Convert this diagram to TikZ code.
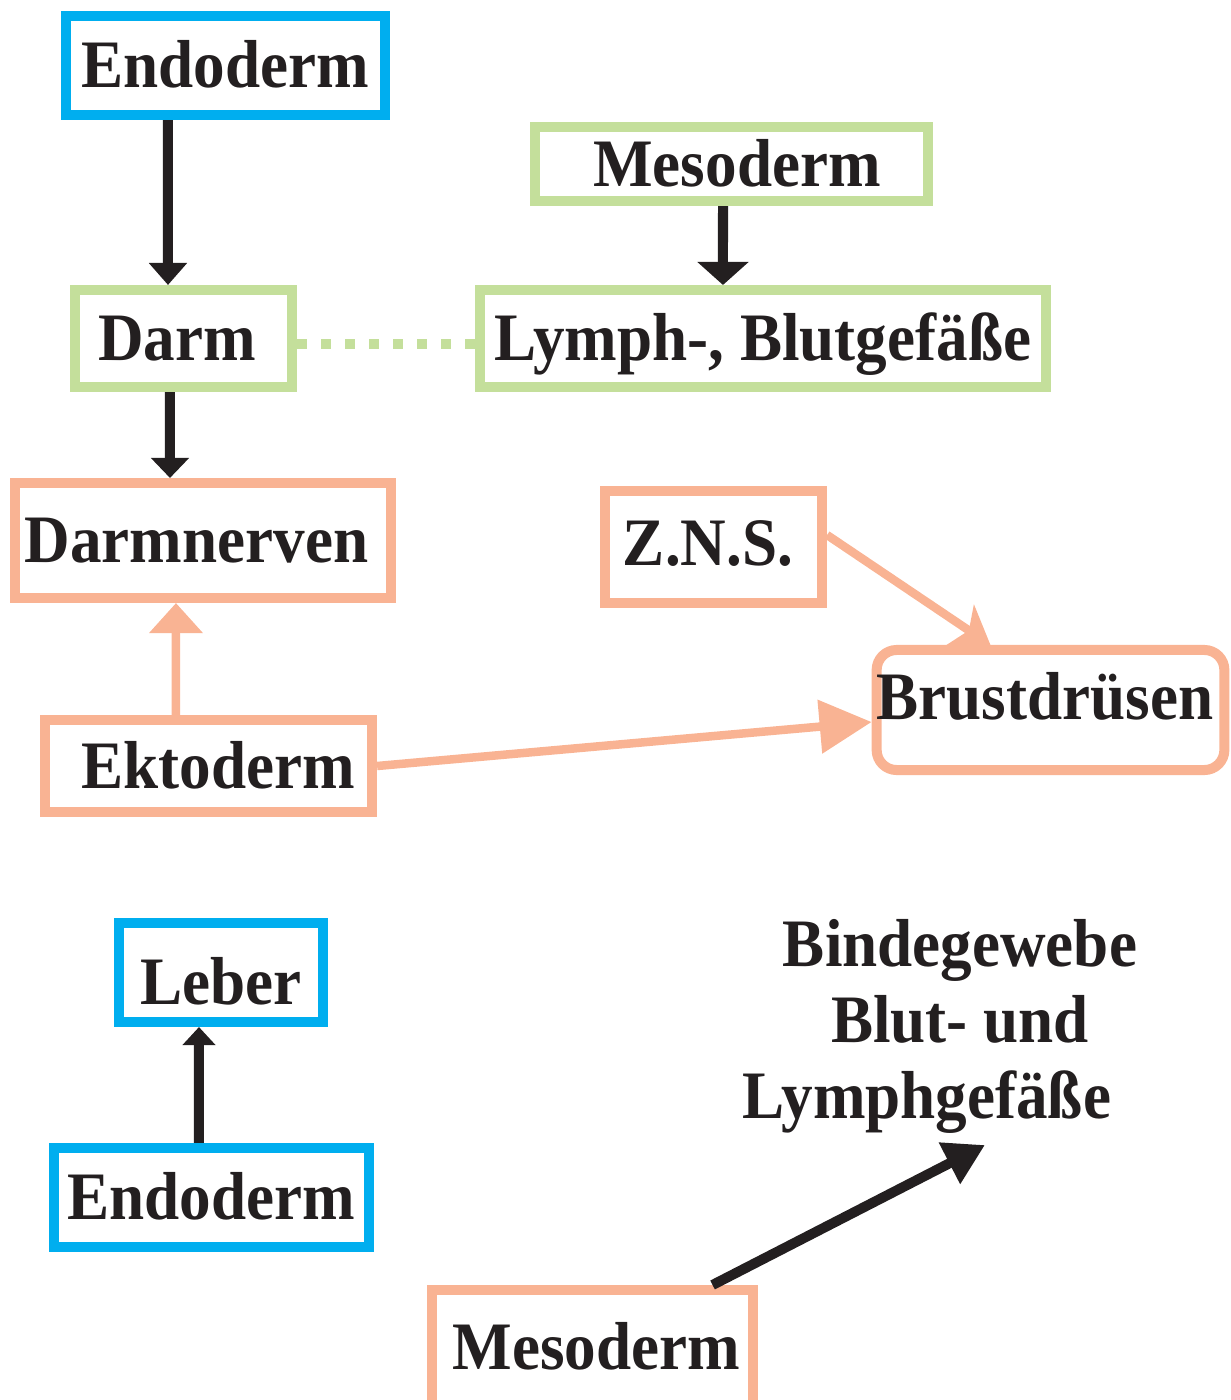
\documentclass[tikz,border=0pt]{standalone}
\usepackage{fontspec}
\setmainfont{Liberation Serif}[FakeStretch=0.93]
\usepackage{xcolor}
\usepackage{tikz}
\usetikzlibrary{arrows.meta}

\definecolor{endoblau}{HTML}{00AEEF}
\definecolor{mesogruen}{HTML}{C4DF9B}
\definecolor{ektoorange}{HTML}{F9B393}
\definecolor{pfeilschwarz}{HTML}{231F20}

\tikzset{
  box/.style={draw, line width=0.1cm, inner sep=0pt, text height=0.445cm, text depth=0pt, text=pfeilschwarz},
  blackarrow/.style={draw=pfeilschwarz, line width=0.1cm},
  orangearrow/.style={draw=ektoorange, line width=0.085cm}
}

\begin{document}
\begin{tikzpicture}[x=0.01cm,y=-0.01cm,font=\fontsize{19.3pt}{21.6pt}\selectfont\bfseries]
    \useasboundingbox (0,0) rectangle (1230,1400);
    % oberer Teil
    \node[box,draw=endoblau,minimum width=3.19cm,minimum height=0.99cm] (endoTop) at (225.5,65.5) {Endoderm};
    \node[box,draw=mesogruen,minimum width=3.93cm,minimum height=0.74cm] (mesoTop) at (731.5,164) {\hspace*{0.11cm}Mesoderm};
    \node[box,draw=mesogruen,minimum width=2.17cm,minimum height=0.97cm] (darm) at (183.5,338.5) {Darm\hspace*{0.13cm}};
    \node[box,draw=mesogruen,minimum width=5.66cm,minimum height=0.97cm] (lymph) at (763,338.5) {Lymph-, Blutgefäße};
    \node[box,draw=ektoorange,minimum width=3.76cm,minimum height=1.15cm] (darmnerven) at (203,540.5) {Darmnerven\hspace*{0.13cm}};
    \node[box,draw=ektoorange,minimum width=2.17cm,minimum height=1.12cm,text depth=0.08cm] (zns) at (713.5,547) {Z.N.S.\hspace*{0.11cm}};
    \node[box,draw=ektoorange,rounded corners=0.2cm,minimum width=3.45cm,minimum height=1.2cm,text depth=0.26cm] (brust) at (1050.5,710) {Brustdrüsen\hspace*{0.11cm}};
    \node[box,draw=ektoorange,minimum width=3.27cm,minimum height=0.92cm] (ekto) at (208.5,766) {\hspace*{0.2cm}Ektoderm};

    \draw[blackarrow,-{Triangle[width=0.37cm,length=0.22cm]}] ([xshift=-0.575cm]endoTop.south) -- ([xshift=-0.155cm]darm.north);
    \draw[blackarrow,-{Triangle[width=0.5cm,length=0.23cm]}] ([xshift=-0.085cm]mesoTop.south) -- ([xshift=-0.4cm]lymph.north);
    \draw[blackarrow,-{Triangle[width=0.37cm,length=0.2cm]}] ([xshift=-0.135cm]darm.south) -- ([xshift=-0.33cm]darmnerven.north);
    \draw[mesogruen,line width=0.1cm,dash pattern=on 0.1cm off 0.14cm] ([yshift=-0.055cm]darm.east) -- ([yshift=-0.055cm]lymph.west);
    \draw[orangearrow,-{Triangle[width=0.52cm,length=0.3cm]}] ([xshift=-0.325cm]ekto.north) -- ([xshift=-0.27cm]darmnerven.south);
    \draw[orangearrow,-{Triangle[width=0.52cm,length=0.52cm]}] (ekto.east) -- ([yshift=-0.12cm]brust.west);
    \draw[orangearrow,-{Stealth[width=0.48cm,length=0.36cm,inset=0.1cm]}] ([yshift=0.12cm]zns.east) -- ([xshift=-0.6cm]brust.north);

    % unterer Teil
    \node[box,draw=endoblau,minimum width=2.04cm,minimum height=0.99cm,text height=0.635cm] (leber) at (221,972.5) {Leber};
    \node[box,draw=endoblau,minimum width=3.15cm,minimum height=0.99cm] (endoBot) at (211.5,1197.5) {Endoderm};
    \node[box,draw=ektoorange,minimum width=3.21cm,minimum height=1.3cm,text depth=0.15cm] (mesoBot) at (592.5,1355) {\hspace*{0.08cm}Mesoderm};
    \node[anchor=north,inner sep=0pt,align=center,text=pfeilschwarz] (gewebe) at (960,919) {Bindegewebe\\Blut- und\\Lymphgefäße\hspace*{0.66cm}};
    \coordinate (gewebeSpitze) at (985,1145);

    \draw[blackarrow,-{Triangle[width=0.32cm,length=0.18cm]}] ([xshift=-0.125cm]endoBot.north) -- ([xshift=-0.22cm]leber.south);
    \draw[blackarrow,-{Triangle[width=0.44cm,length=0.4cm]}] ([xshift=1.2cm]mesoBot.north) -- (gewebeSpitze);
\end{tikzpicture}
\end{document}
